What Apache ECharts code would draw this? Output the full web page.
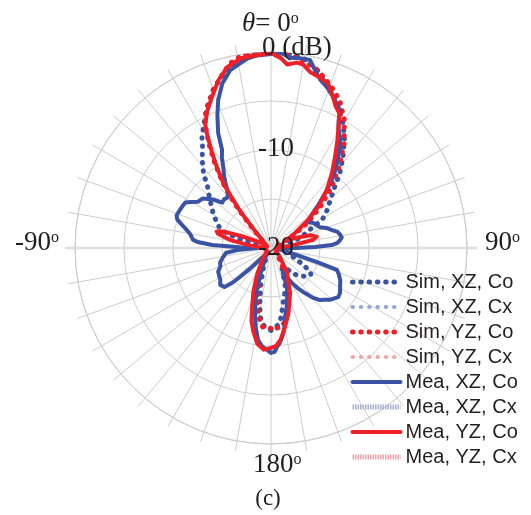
<!DOCTYPE html>
<html><head><meta charset="utf-8">
<script src="https://cdn.jsdelivr.net/npm/echarts@6/dist/echarts.min.js"></script>
<style>html,body{margin:0;padding:0;background:#fff}#c{width:531px;height:515px}</style>
</head><body><div id="c"></div>
<script>
// ---- data: [angle in degrees (clockwise from 0 at top), level in dB] ----
const seriesNames = ['Sim, XZ, Co', 'Sim, XZ, Cx', 'Sim, YZ, Co', 'Sim, YZ, Cx', 'Mea, XZ, Co', 'Mea, XZ, Cx', 'Mea, YZ, Co', 'Mea, YZ, Cx'];

const simXZCo = [[-180,-11.6],[-175,-12.0],[-171,-12.9],[-168,-14.6],[-164,-16.3],[-158,-18.0],[-150,-19.2],[-135,-19.6],[-110,-19.6],[-90,-19.6],[-82,-19.2],[-77,-18.2],[-74,-16.6],[-71,-15.0],[-68,-14.3],[-65,-13.9],[-59,-13.1],[-55,-12.6],[-52,-12.1],[-46,-11.0],[-42,-9.7],[-38,-8.6],[-34,-7.5],[-32,-6.7],[-29,-5.8],[-25,-4.4],[-20,-2.8],[-15,-1.5],[-10,-0.6],[-5,-0.1],[0,0],[5,-0.1],[10,-0.4],[14.5,-1.2],[17,-1.9],[19,-2.5],[21.5,-3.1],[24.5,-3.8],[27,-4.5],[30,-5.3],[34,-6.6],[38.5,-8.2],[42.5,-9.6],[46.5,-11.1],[51,-12.2],[56,-13.1],[61,-14.0],[66,-16.0],[71,-16.8],[76,-18.5],[85,-19.4],[100,-19.3],[108,-18.2],[113,-17.3],[118,-16.2],[121,-15.3],[124,-15.1],[128,-15.3],[133,-15.8],[138,-16.4],[145,-17.6],[152,-17.6],[159,-16.0],[164,-15.0],[168,-14.1],[173,-12.4],[177,-11.8],[180,-11.6]];
const simXZCx = [];
const simYZCo = [[-180,-11.8],[-174,-11.9],[-171,-12.6],[-167,-13.8],[-163,-15.3],[-158,-17.0],[-150,-18.6],[-140,-19.4],[-110,-19.6],[-80,-19.6],[-60,-19.5],[-50,-19.0],[-45,-18.0],[-42,-16.5],[-40,-14.8],[-38,-13.0],[-36,-11.4],[-33.5,-9.6],[-31,-7.8],[-29,-6.4],[-27,-5.1],[-24.6,-4.3],[-22,-3.5],[-20,-2.8],[-17.7,-2.2],[-15.3,-1.5],[-12.5,-0.7],[-8.5,-0.1],[-4,0],[0,0],[5,-0.2],[10,-0.6],[15,-1.3],[20,-2.3],[25,-3.4],[30,-5.0],[35,-7.0],[40,-9.2],[45,-11.3],[50,-13.4],[55,-15.3],[60,-17.2],[66,-18.8],[75,-19.5],[100,-19.6],[130,-19.3],[145,-18.3],[152,-17.0],[157,-15.8],[161,-14.6],[165,-13.6],[168,-12.6],[172,-11.9],[176,-11.8],[180,-11.8]];
const simYZCx = [];
const meaXZCo = [[-180,-9.3],[-177.8,-9.6],[-175,-9.9],[-172,-10.5],[-169,-11.8],[-167,-12.8],[-164,-14.2],[-161.5,-15.5],[-157,-17.4],[-150,-18.9],[-142,-19.2],[-137,-18.6],[-134.5,-17.0],[-133,-15.7],[-132,-14.7],[-130,-13.8],[-126,-13.6],[-122,-13.9],[-118,-14.0],[-114,-14.1],[-110,-14.5],[-106,-14.6],[-101,-15.0],[-96,-15.4],[-93,-16.8],[-90,-18.6],[-88.5,-16.8],[-87,-14.0],[-85.5,-12.6],[-84,-12.0],[-80,-11.6],[-77,-11.0],[-75,-10.5],[-73,-10.0],[-71,-9.8],[-68,-9.9],[-65,-10.0],[-62,-10.1],[-60,-10.6],[-57.5,-11.2],[-54,-11.4],[-50,-12.3],[-47,-13.2],[-44,-13.1],[-41,-13.2],[-38,-12.9],[-35,-11.9],[-33,-11.2],[-30.5,-10.4],[-28.5,-9.5],[-26.5,-8.8],[-24.7,-7.1],[-22,-5.4],[-19.7,-4.0],[-16.5,-2.5],[-13,-1.4],[-9.5,-0.9],[-7,-0.5],[-4,-0.3],[0,-0.2],[2.6,0],[5.7,-0.5],[8.7,-0.4],[11.7,-0.4],[13.9,-1.3],[16.3,-2.1],[18.5,-2.5],[20.5,-2.9],[23.5,-3.6],[26.6,-4.3],[28,-5.3],[29.5,-6.0],[32,-6.7],[34.3,-7.5],[36,-8.3],[37.8,-9.0],[40,-9.9],[41.9,-10.7],[44,-11.8],[45.6,-12.6],[47.5,-13.4],[49.2,-14.1],[52,-15.0],[55,-15.4],[59,-15.0],[63,-14.8],[66.8,-14.6],[70,-14.0],[73.6,-13.5],[76.5,-13.0],[79.3,-12.8],[81.5,-12.7],[83.4,-12.9],[85.5,-13.2],[87.2,-13.8],[88.7,-15.5],[90,-17.5],[93,-18.8],[98,-19.0],[103,-18.6],[105.5,-17.0],[107,-15.0],[108.4,-12.9],[111,-12.6],[115,-12.2],[119.5,-11.9],[123,-11.6],[126.2,-11.5],[129,-11.8],[131.4,-12.0],[134,-12.4],[136.7,-12.7],[140,-13.4],[142.9,-14.2],[146,-15.0],[149,-15.8],[152,-16.8],[154.4,-17.2],[157,-16.0],[159.5,-15.2],[161.9,-14.7],[165,-13.8],[168.5,-12.8],[171,-11.5],[173,-10.8],[175,-10.2],[176.5,-9.9],[178,-9.4],[180,-9.3]];
const meaXZCx = [];
const meaYZCo = [[-180,-9.8],[-176,-9.6],[-172,-10.1],[-168,-11.3],[-165,-12.3],[-162,-13.8],[-158,-15.2],[-152,-17.0],[-145,-18.4],[-135,-19.2],[-120,-19.5],[-100,-19.5],[-88,-19.2],[-83,-17.8],[-79,-15.8],[-75,-14.4],[-73,-14.2],[-71,-14.8],[-68,-16.8],[-64,-18.6],[-58,-19.4],[-50,-19.2],[-45,-18.4],[-42,-17.0],[-40,-15.2],[-38,-13.6],[-36.5,-11.9],[-34,-10.2],[-31.5,-8.4],[-29.5,-6.8],[-28,-5.7],[-25,-4.6],[-21.5,-3.5],[-17.5,-2.1],[-13.5,-1.0],[-9,-0.4],[-4,-0.25],[0,-0.1],[3,-0.6],[5,-1.2],[8,-0.9],[10,-1.0],[12.5,-1.6],[16,-1.9],[19,-2.2],[22,-3.2],[24.5,-4.1],[27,-4.6],[29,-5.8],[31.5,-7.0],[35,-8.6],[39,-10.1],[44,-11.8],[49,-13.6],[53,-15.3],[58,-17.1],[63,-18.3],[68,-17.2],[72,-15.8],[76,-15.2],[79,-15.6],[83,-17.8],[88,-19.2],[100,-19.5],[120,-19.4],[135,-18.7],[147,-17.0],[157,-15.0],[162,-14.0],[165,-13.1],[170,-11.8],[174,-10.6],[177,-10.0],[180,-9.8]];
const meaYZCx = [];

const radiusTickLabels = ['-20', '-10', '0 (dB)'];
const angleTickLabels = ['-90', '90', '180'];
const panelLabel = '(c)';

// ---- chart ----
const blue = '#3a53a4', red = '#ee1f26', lightBlue = '#98a6d6', pink = '#f5a3a8';
const grid = '#cdcdcd';
const serif = '"Liberation Serif", "Times New Roman", serif';

function toPolar(pairs) { return pairs.map(p => [p[1], p[0] < 0 ? p[0] + 360 : p[0]]); }

const dots = (c, w) => ({ color: c, width: w, type: [0.5, 7.8], cap: 'round', join: 'round' });

const seriesDefs = [
  [simXZCo, dots(blue, 5)],
  [simXZCx, dots(lightBlue, 4)],
  [simYZCo, dots(red, 5)],
  [simYZCx, dots(pink, 4)],
  [meaXZCo, { color: blue, width: 4, type: 'solid', join: 'round', cap: 'round' }],
  [meaXZCx, { color: '#a3b0dc', width: 5, type: [1.5, 1], cap: 'butt', join: 'round' }],
  [meaYZCo, { color: red, width: 4, type: 'solid', join: 'round', cap: 'round' }],
  [meaYZCx, { color: '#f4a0a6', width: 5, type: [1.5, 1], cap: 'butt', join: 'round' }]
];

const chart = echarts.init(document.getElementById('c'), null, { renderer: 'canvas' });

const supText = (t, x, y) => ({
  type: 'text', x: x, y: y, z: 100,
  style: {
    text: '{a|' + t + '}{s|o}', textVerticalAlign: 'middle', fill: '#231f20',
    rich: { a: { fontFamily: serif, fontSize: 27, lineHeight: 27, fill: '#231f20' },
            s: { fontFamily: serif, fontSize: 16, verticalAlign: 'top', fill: '#231f20' } }
  }
});
const plainText = (t, x, y, size, align) => ({
  type: 'text', x: x, y: y, z: 100,
  style: { text: t, fontFamily: serif, fontSize: size, fill: '#231f20', textAlign: align || 'left', textVerticalAlign: 'middle' }
});

chart.setOption({
  animation: false,
  backgroundColor: '#fff',
  polar: [
    { center: [271, 248], radius: 206 },
    { center: [271, 248], radius: 196 },
    { center: [271, 248], radius: 206 }
  ],
  angleAxis: [
    { polarIndex: 0, type: 'value', min: 0, max: 360, interval: 10, startAngle: 90, clockwise: true,
      axisLine: { show: false }, axisTick: { show: false }, axisLabel: { show: false },
      splitLine: { show: true, lineStyle: { color: grid, width: 1 } } },
    { polarIndex: 1, type: 'value', min: 0, max: 360, interval: 90, startAngle: 90, clockwise: true,
      axisLine: { show: true, lineStyle: { color: grid, width: 1 } }, axisTick: { show: false }, axisLabel: { show: false },
      splitLine: { show: false } },
    { polarIndex: 2, type: 'value', min: 0, max: 360, interval: 180, startAngle: 0, clockwise: true,
      axisLine: { show: false }, axisTick: { show: false }, axisLabel: { show: false },
      splitLine: { show: true, lineStyle: { color: '#dedede', width: 2.5 } } }
  ],
  radiusAxis: [
    { polarIndex: 0, type: 'value', min: 0, max: 1, show: false },
    { polarIndex: 1, type: 'value', min: -20, max: 0, interval: 5,
      axisLine: { show: false }, axisTick: { show: false }, axisLabel: { show: false },
      splitLine: { show: true, lineStyle: { color: grid, width: 1 } } },
    { polarIndex: 2, type: 'value', min: 0, max: 1, show: false }
  ],
  legend: {
    orient: 'vertical', left: 350, top: 272, padding: 0,
    itemWidth: 48, itemHeight: 14, itemGap: 5, selectedMode: false,
    itemStyle: { opacity: 0, borderWidth: 0 },
    lineStyle: { width: 'inherit' },
    textStyle: { fontFamily: '"Liberation Sans", Arial, sans-serif', fontSize: 20, lineHeight: 20, color: '#231f20' },
    data: seriesNames
  },
  series: seriesDefs.map((d, i) => ({
    name: seriesNames[i], type: 'line', coordinateSystem: 'polar', polarIndex: 1,
    data: toPolar(d[0]), symbol: 'none', smooth: false,
    lineStyle: d[1], itemStyle: { color: d[1].color }
  })),
  graphic: [
    { type: 'text', x: 242, y: 24, z: 100,
      style: { text: '{i|θ}{a|= 0}{s|o}', textVerticalAlign: 'middle',
        rich: { i: { fontFamily: serif, fontStyle: 'italic', fontSize: 27, lineHeight: 27, fill: '#231f20' },
                a: { fontFamily: serif, fontSize: 27, lineHeight: 27, fill: '#231f20' },
                s: { fontFamily: serif, fontSize: 16, verticalAlign: 'top', fill: '#231f20' } } } },
    plainText(radiusTickLabels[2], 262, 48, 27),
    plainText(radiusTickLabels[1], 258, 149, 27),
    plainText(radiusTickLabels[0], 258, 248, 27),
    supText(angleTickLabels[0], 15, 243),
    supText(angleTickLabels[1], 485, 243),
    supText(angleTickLabels[2], 253, 465),
    plainText(panelLabel, 268, 499, 23, 'center')
  ]
});
</script></body></html>
